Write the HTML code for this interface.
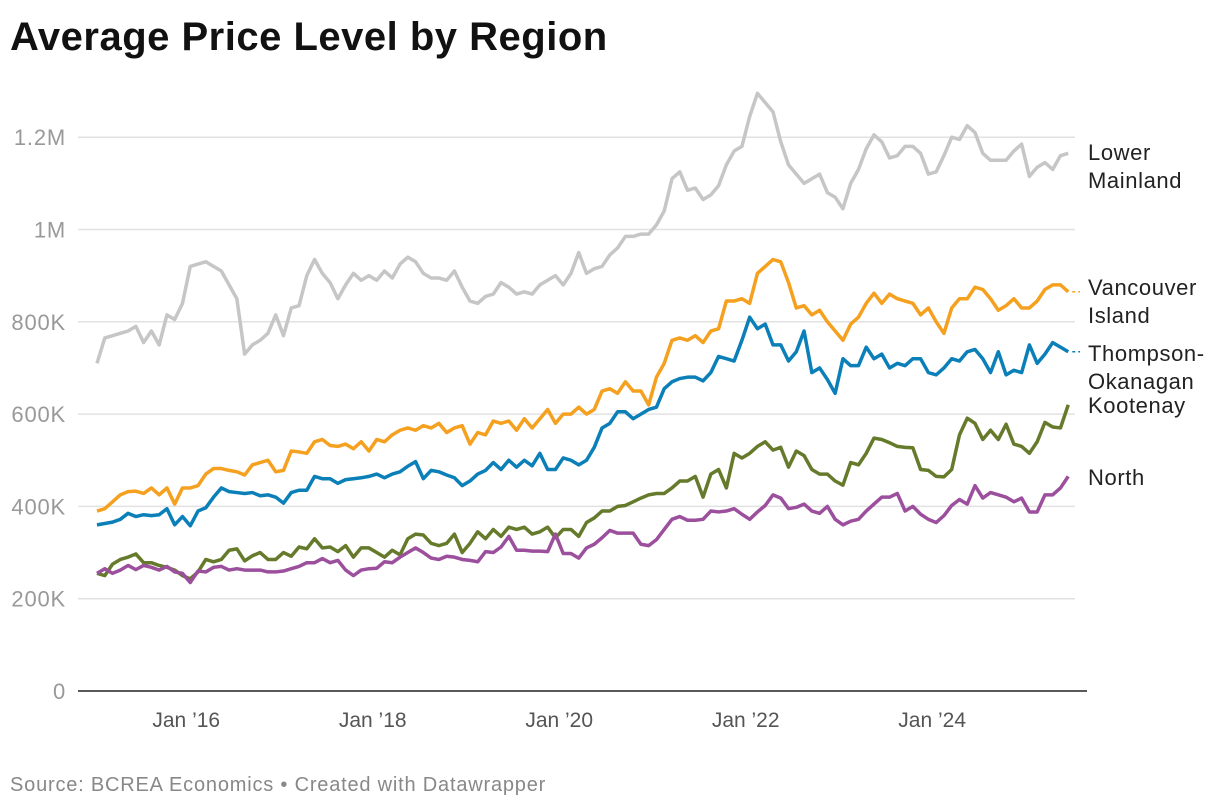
<!DOCTYPE html>
<html><head><meta charset="utf-8"><style>
body{margin:0;background:#fff;font-family:"Liberation Sans",Arial,sans-serif;}
svg{display:block}
</style></head><body>
<svg width="1220" height="808" id="chart">
<text x="10" y="50" font-size="40" font-weight="bold" fill="#111" letter-spacing="0.5">Average Price Level by Region</text>
<text x="10" y="791" font-size="20" fill="#888" letter-spacing="0.8">Source: BCREA Economics • Created with Datawrapper</text>
<g id="grid"></g><g id="lines"></g><g id="labels"></g>
</svg>
<script>
const yTicks=[0,200,400,600,800,1000,1200];
const yTickLabels=["0","200K","400K","600K","800K","1M","1.2M"];
const xTickMonths=[12,36,60,84,108];
const xTickLabels=["Jan ’16","Jan ’18","Jan ’20","Jan ’22","Jan ’24"];
const seriesNames=["Lower Mainland","Vancouver Island","Thompson-Okanagan","Kootenay","North"];
const lowerMainland=[710,765,770,775,780,790,755,780,750,815,805,840,
920,925,930,920,910,880,850,730,750,760,775,815,
770,830,835,900,935,905,885,850,880,905,890,900,
890,910,895,925,940,930,905,895,895,890,910,875,
845,840,855,860,885,875,860,865,860,880,890,900,
880,905,950,905,915,920,945,960,985,985,990,990,
1010,1040,1110,1125,1085,1090,1065,1075,1095,1140,1170,1180,
1245,1295,1275,1255,1190,1140,1120,1100,1110,1120,1080,1070,
1045,1100,1130,1175,1205,1190,1155,1160,1180,1180,1165,1120,
1125,1160,1200,1195,1225,1210,1165,1150,1150,1150,1170,1185,
1115,1135,1145,1130,1160,1165];
const vancouverIsland=[390,395,410,425,432,433,428,440,425,440,405,440,
440,445,470,482,482,478,475,468,490,495,500,475,
478,520,518,515,540,545,532,530,535,525,540,520,
545,540,555,565,570,565,575,570,580,560,570,575,
535,560,555,585,580,585,565,590,570,590,610,580,
600,600,615,600,610,650,655,645,670,650,650,620,
680,710,760,765,760,770,755,780,785,845,845,850,
840,905,920,935,930,885,830,835,815,825,800,780,
760,795,810,840,862,840,860,850,845,840,815,830,
800,775,830,850,850,875,870,850,825,835,850,830,
830,845,870,880,880,865];
const thompsonOkanagan=[360,363,366,372,385,378,382,380,382,395,360,378,
358,390,397,420,440,432,430,428,430,423,425,420,
407,430,435,435,465,460,460,450,458,460,462,465,
470,462,470,475,487,497,460,478,475,468,462,445,
455,470,478,495,480,500,485,500,488,515,480,480,
505,500,490,500,528,570,580,605,605,590,600,610,
615,655,670,677,680,680,672,690,725,720,715,760,
810,785,795,750,750,715,735,780,690,700,675,645,
720,705,705,745,720,730,700,710,705,720,720,690,
685,700,720,715,735,740,720,690,735,685,695,690,
750,710,730,755,745,735];
const kootenay=[255,250,275,285,290,297,278,278,272,268,262,250,
243,258,285,280,285,305,308,282,293,300,285,285,
300,292,312,308,330,310,312,302,315,290,310,310,
300,290,305,295,330,340,338,320,315,320,340,300,
320,345,330,350,335,355,350,355,340,345,355,332,
350,350,335,365,375,390,390,400,402,410,418,425,
428,428,440,455,455,465,420,470,480,440,515,505,
515,530,540,522,528,485,520,510,480,470,470,455,
446,495,490,515,548,545,538,530,528,527,480,478,
465,464,480,555,591,580,545,565,545,578,535,530,
515,540,582,572,570,620];
const north=[255,265,255,262,272,263,272,268,262,270,258,255,
235,260,258,268,270,262,265,262,262,262,258,258,
260,265,270,278,278,287,278,283,262,250,262,265,
266,280,278,290,300,310,300,288,285,292,290,285,
283,280,302,300,312,335,305,305,303,303,302,340,
298,298,288,310,318,332,348,342,342,342,318,315,
328,350,372,378,370,370,372,390,388,390,395,383,
372,388,402,425,418,395,398,405,390,385,400,372,
360,368,372,390,405,420,420,428,390,400,383,372,
365,380,402,415,405,445,418,430,425,420,410,418,
388,388,425,425,440,465];
const allSeries=[lowerMainland,vancouverIsland,thompsonOkanagan,kootenay,north];
const colors=["#c6c6c6","#f5a01e","#0a7fb8","#667a2c","#9b4f9c"];
const NS="http://www.w3.org/2000/svg";
const x0=97,step=7.77,y0=691,yPer=0.4615;
function xs(i){return x0+i*step;}
function ys(v){return y0-v*yPer;}
const grid=document.getElementById('grid');
yTicks.forEach((t,k)=>{
  const y=ys(t);
  if(t>0){const l=document.createElementNS(NS,'line');
  l.setAttribute('x1',78);l.setAttribute('x2',1075);l.setAttribute('y1',y);l.setAttribute('y2',y);
  l.setAttribute('stroke','#e2e2e2');l.setAttribute('stroke-width','1.5');
  
  
  grid.appendChild(l);}
  const tx=document.createElementNS(NS,'text');
  tx.setAttribute('x',66);tx.setAttribute('y',y+8);tx.setAttribute('text-anchor','end');
  tx.setAttribute('font-size','22');tx.setAttribute('fill','#999');tx.setAttribute('letter-spacing','0.8');
  tx.textContent=yTickLabels[k];
  
  
  grid.appendChild(tx);
});
const ax=document.createElementNS(NS,'line');
ax.setAttribute('x1',78);ax.setAttribute('x2',1087);ax.setAttribute('y1',y0);ax.setAttribute('y2',y0);
ax.setAttribute('stroke','#222');ax.setAttribute('stroke-width','1.5');


grid.appendChild(ax);
xTickMonths.forEach((m,k)=>{
  const tx=document.createElementNS(NS,'text');
  tx.setAttribute('x',xs(m)-4);tx.setAttribute('y',727);tx.setAttribute('text-anchor','middle');
  tx.setAttribute('font-size','21');tx.setAttribute('fill','#555');
  tx.textContent=xTickLabels[k];
  
  
  grid.appendChild(tx);
});
const lines=document.getElementById('lines');
allSeries.forEach((s,k)=>{
  const p=document.createElementNS(NS,'polyline');
  p.setAttribute('points',s.map((v,i)=>xs(i)+','+ys(v)).join(' '));
  p.setAttribute('fill','none');p.setAttribute('stroke',colors[k]);p.setAttribute('stroke-width','3.5');
  p.setAttribute('stroke-linejoin','round');
  
  
  lines.appendChild(p);
  if(k==1||k==2){
    const d=document.createElementNS(NS,'line');
    const ex=xs(s.length-1),ey=ys(s[s.length-1]);
    d.setAttribute('x1',ex+4);d.setAttribute('x2',1080);d.setAttribute('y1',ey);d.setAttribute('y2',ey);
    d.setAttribute('stroke',colors[k]);d.setAttribute('stroke-width','1.5');d.setAttribute('stroke-dasharray','3,3');
    
    
    lines.appendChild(d);
  }
});
const labelLines=[["Lower","Mainland"],["Vancouver","Island"],["Thompson-","Okanagan"],["Kootenay"],["North"]];
const labelY=[160,295,361,413,485];
const lab=document.getElementById('labels');
labelLines.forEach((ls,k)=>{
  const t=document.createElementNS(NS,'text');
  t.setAttribute('x',1088);t.setAttribute('y',labelY[k]);t.setAttribute('font-size','22');t.setAttribute('fill','#222');t.setAttribute('letter-spacing','0.6');
  ls.forEach((w,j)=>{const ts=document.createElementNS(NS,'tspan');ts.setAttribute('x',1088);ts.setAttribute('dy',j?28:0);ts.textContent=w;t.appendChild(ts);});
  
  
  lab.appendChild(t);
});
</script>
</body></html>
